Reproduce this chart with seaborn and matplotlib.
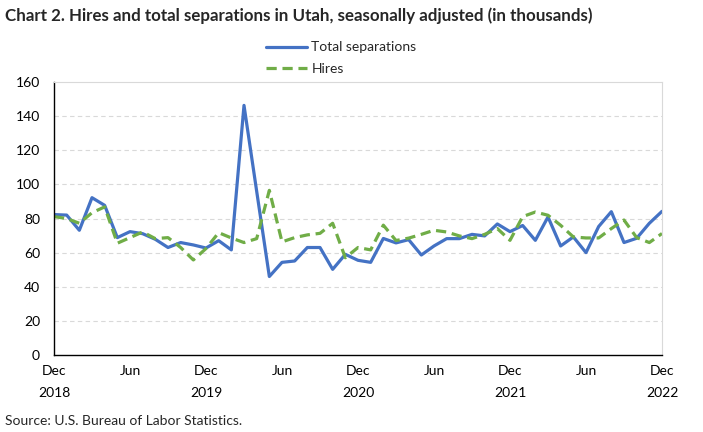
import matplotlib
matplotlib.use("Agg")
import matplotlib.pyplot as plt
import seaborn as sns
import pandas as pd
import numpy as np

months = pd.date_range("2018-12-01", "2022-12-01", freq="MS")

total_separations = [82.3, 82.0, 73.1, 92.2, 87.7, 68.8, 72.3, 71.1, 67.8, 63.0, 65.9, 64.5,
                     62.7, 67.0, 61.6, 146.3, 96.0, 46.0, 54.3, 55.1, 63.0, 63.0, 50.2, 59.0,
                     55.5, 54.3, 68.3, 65.7, 67.6, 58.6, 63.9, 68.2, 68.2, 70.7, 69.8, 76.8,
                     72.3, 75.9, 67.2, 80.9, 63.9, 69.2, 60.0, 75.3, 84.0, 65.9, 68.4, 77.2, 84.2]
hires = [81.1, 80.0, 77.2, 83.4, 86.8, 65.5, 68.8, 72.1, 68.2, 68.8, 63.0, 55.7,
         62.4, 71.7, 68.6, 65.9, 68.2, 96.5, 66.3, 68.8, 70.4, 71.3, 77.2, 57.0,
         63.0, 61.6, 76.1, 67.1, 68.5, 70.7, 73.1, 72.1, 69.8, 68.2, 70.7, 74.1,
         67.2, 81.1, 83.8, 81.9, 76.0, 69.2, 68.6, 68.6, 74.1, 79.1, 68.8, 65.9, 71.2]

tick_labels = {0: "Dec\n2018", 6: "Jun", 12: "Dec\n2019", 18: "Jun", 24: "Dec\n2020",
               30: "Jun", 36: "Dec\n2021", 42: "Jun", 48: "Dec\n2022"}

df = pd.DataFrame({"idx": np.arange(len(months)),
                   "Total separations": total_separations,
                   "Hires": hires})

sns.set_style("white")
plt.rcParams["font.family"] = ["Lato", "DejaVu Sans"]

fig = plt.figure(figsize=(7.03, 4.32), dpi=100)
ax = fig.add_axes([54/703, 1-355/432, (662-54)/703, (355-82)/432])

sns.lineplot(data=df, x="idx", y="Total separations", ax=ax, color="#4472C4",
             linewidth=2.3, label="Total separations")
sns.lineplot(data=df, x="idx", y="Hires", ax=ax, color="#70AD47",
             linewidth=2.3, linestyle=(0, (3.2, 1.8)), label="Hires")

ax.set_xlim(0, len(months) - 1)
ax.set_ylim(0, 160)
ax.set_yticks(range(0, 161, 20))
ax.set_xticks(np.arange(len(months)))
ax.set_xticklabels([tick_labels.get(i, "") for i in range(len(months))])
ax.tick_params(axis="x", direction="out", length=4, width=0.8, color="black",
               labelsize=10, pad=3, colors="black")
ax.tick_params(axis="y", length=0, labelsize=10, pad=10, colors="black")
for lab in ax.get_xticklabels():
    lab.set_linespacing(2.0)
ax.set_xlabel("")
ax.set_ylabel("")

for y in range(20, 160, 20):
    ax.axhline(y, color="#D9D9D9", linewidth=0.8, linestyle=(0, (4, 3)), zorder=0)

ax.spines["left"].set_color("black")
ax.spines["bottom"].set_color("black")
ax.spines["left"].set_linewidth(1.0)
ax.spines["bottom"].set_linewidth(1.0)
ax.spines["top"].set_color("#D9D9D9")
ax.spines["right"].set_color("#D9D9D9")
ax.spines["top"].set_linewidth(0.8)
ax.spines["right"].set_linewidth(0.8)

leg = ax.legend(loc="center", bbox_to_anchor=(341/703, 1-58/432), bbox_transform=fig.transFigure,
                frameon=False, fontsize=10, handlelength=3.0, handletextpad=0.3,
                labelspacing=0.65, ncol=1)

fig.text(5/703, 1-16/432, "Chart 2. Hires and total separations in Utah, seasonally adjusted (in thousands)",
         fontsize=12.2, fontweight="bold", ha="left", va="center")
fig.text(5/703, 1-421/432, "Source: U.S. Bureau of Labor Statistics.", fontsize=10,
         ha="left", va="center")

fig.savefig("out.png", dpi=100)
